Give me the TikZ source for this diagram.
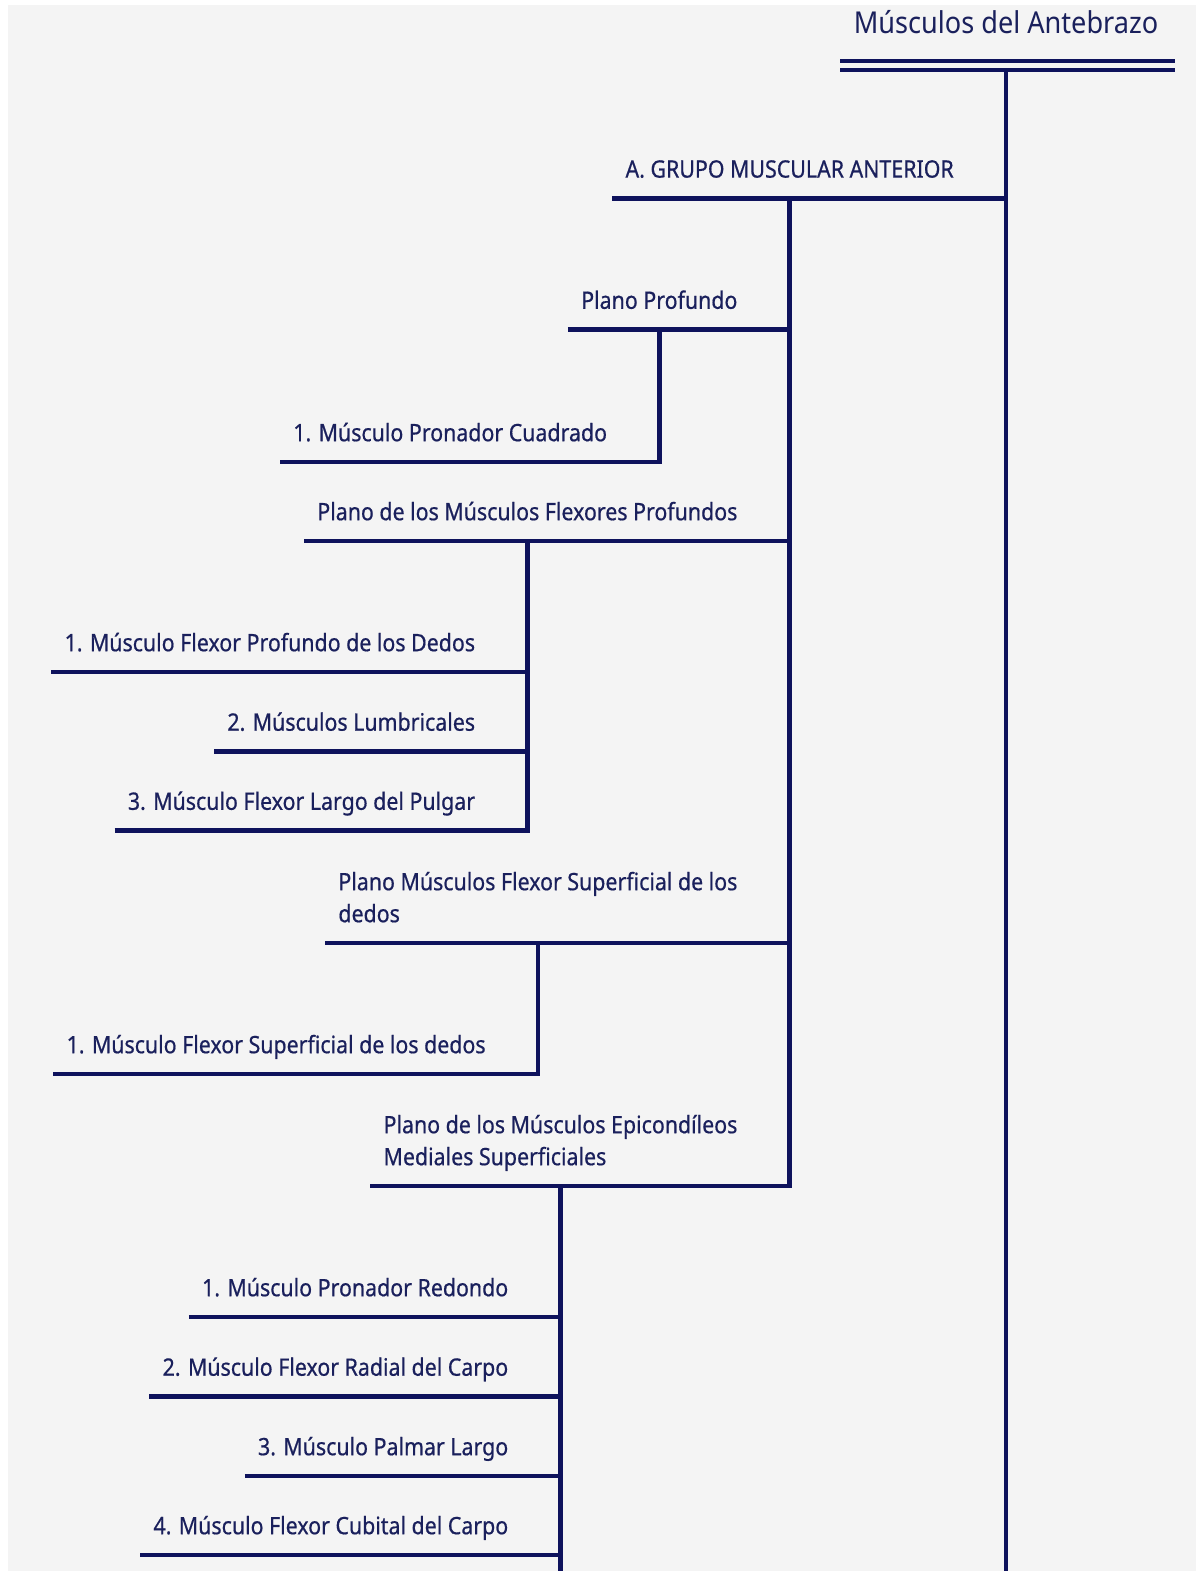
\documentclass[tikz,border=0pt]{standalone}
\usepackage{fontspec}
\setmainfont{Noto Sans}[FakeStretch=0.89,FakeBold=0.6]
\newfontfamily\titlefont{Noto Sans}[FakeStretch=0.9]
\usetikzlibrary{positioning}
\definecolor{InkNavy}{RGB}{14,18,92}
\definecolor{TextNavy}{RGB}{26,32,92}
\definecolor{PaperGray}{RGB}{244,244,244}

\begin{document}
\begin{tikzpicture}[x=0.75pt,y=-0.75pt,
  lbl/.style={anchor=south east,xshift=-29.25pt,inner xsep=9.75pt,inner ysep=15.4pt,text depth=0pt,text=TextNavy,font=\fontsize{18}{24}\selectfont,align=left},
  rule/.style={InkNavy,line width=3.4pt},
  trunk/.style={rule,line cap=rect}]
\fill[white] (0,0) rectangle (1196,1571);
\fill[PaperGray] (8,5) rectangle (1196,1571);
\useasboundingbox (0,0) rectangle (1196,1571);
% title and double bar
\node[anchor=base,text=TextNavy,font=\titlefont\fontsize{22.6}{26}\selectfont] (title) at (1006,33) {Músculos del Antebrazo};
\draw[rule] (840,61) -- (1175,61);\draw[rule] (840,70) -- (1175,70);
\draw[trunk] (title.south |- 0,70) -- (title.south |- 0,1571);
% groups
\node[lbl] (grp) at (1006,198.4) {A. GRUPO MUSCULAR ANTERIOR};
\node[lbl] (prof) at (grp.south |- 0,329.6) {Plano Profundo};
\node[lbl] (pcu) at (prof.south |- 0,462) {1. Músculo Pronador Cuadrado};
\node[lbl] (flp) at (grp.south |- 0,541) {Plano de los Músculos Flexores Profundos};
\node[lbl] (fpd) at (flp.south |- 0,672) {1. Músculo Flexor Profundo de los Dedos};
\node[lbl] (lum) at (flp.south |- 0,751.5) {2. Músculos Lumbricales};
\node[lbl] (flg) at (flp.south |- 0,830.6) {3. Músculo Flexor Largo del Pulgar};
\node[lbl] (fls) at (grp.south |- 0,943) {Plano Músculos Flexor Superficial de los\\dedos};
\node[lbl] (fsd) at (fls.south |- 0,1074) {1. Músculo Flexor Superficial de los dedos};
\node[lbl] (epi) at (grp.south |- 0,1186) {Plano de los Músculos Epicondíleos\\Mediales Superficiales};
\node[lbl] (prd) at (epi.south |- 0,1317) {1. Músculo Pronador Redondo};
\node[lbl] (frc) at (epi.south |- 0,1396.5) {2. Músculo Flexor Radial del Carpo};
\node[lbl] (pal) at (epi.south |- 0,1476) {3. Músculo Palmar Largo};
\node[lbl] (fcc) at (epi.south |- 0,1555) {4. Músculo Flexor Cubital del Carpo};
% underlines
\foreach \n/\p in {grp/title,prof/grp,pcu/prof,flp/grp,fpd/flp,lum/flp,flg/flp,fls/grp,fsd/fls,epi/grp,prd/epi,frc/epi,pal/epi,fcc/epi}
  \draw[rule] (\n.south west) -- (\n.south -| \p.south);
% verticals
\draw[trunk] (grp.south) -- (epi.south -| grp.south);
\draw[trunk] (prof.south) -- (pcu.south -| prof.south);
\draw[trunk] (flp.south) -- (flg.south -| flp.south);
\draw[trunk] (fls.south) -- (fsd.south -| fls.south);
\draw[trunk] (epi.south) -- (epi.south |- 0,1571);
\end{tikzpicture}
\end{document}
